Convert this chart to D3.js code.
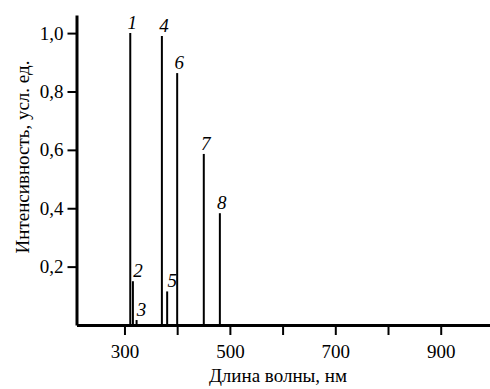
<!DOCTYPE html>
<html>
<head>
<meta charset="utf-8">
<script src="https://cdn.jsdelivr.net/npm/d3@7"></script>
<style>
  body { margin: 0; background: #fff; }
</style>
</head>
<body>
<svg id="chart" width="490" height="389" font-family="Liberation Serif">
  <text x="278" y="382" text-anchor="middle" font-size="19" font-family="Liberation Serif">Длина волны, нм</text>
  <text transform="translate(29,157) rotate(-90)" text-anchor="middle" font-size="19" font-family="Liberation Serif">Интенсивность, усл. ед.</text>
</svg>
<script>
// emission lines: wavelength (nm) and relative intensity
var lineNames = ["1", "2", "3", "4", "5", "6", "7", "8"];
var wavelengths = [311, 316, 323, 371, 381, 400, 450.5, 481];
var intensities = [1.0, 0.15, 0.017, 0.99, 0.115, 0.863, 0.586, 0.383];

var xTicks = [300, 400, 500, 600, 700, 800, 900];
var xTickLabels = ["300", "", "500", "", "700", "", "900"];
var yTicks = [0.2, 0.4, 0.6, 0.8, 1.0];
var yTickLabels = ["0,2", "0,4", "0,6", "0,8", "1,0"];

var svg = d3.select("#chart");

var x = d3.scaleLinear()
    .domain([209, 993.5])
    .range([76.5, 490]);

var y = d3.scaleLinear()
    .domain([0, 1.062])
    .range([325, 15]);

// spectral lines
svg.append("g")
   .selectAll("line")
   .data(wavelengths)
   .enter()
   .append("line")
   .attr("x1", function(d) { return x(d); })
   .attr("x2", function(d) { return x(d); })
   .attr("y1", y(0))
   .attr("y2", function(d, i) { return y(intensities[i]); })
   .attr("stroke", "#000")
   .attr("stroke-width", 2);

// line numbers (small lines get their number shifted to the right)
svg.append("g")
   .selectAll("text")
   .data(wavelengths)
   .enter()
   .append("text")
   .attr("x", function(d, i) { return x(d) + (intensities[i] < 0.2 ? 5 : 2); })
   .attr("y", function(d, i) { return y(intensities[i]) - 4; })
   .attr("text-anchor", "middle")
   .attr("font-family", "Liberation Serif")
   .attr("font-style", "italic")
   .attr("font-size", 19)
   .text(function(d, i) { return lineNames[i]; });

var xAxis = d3.axisBottom(x)
    .tickValues(xTicks)
    .tickFormat(function(d, i) { return xTickLabels[i]; })
    .tickSizeInner(10)
    .tickSizeOuter(0)
    .tickPadding(9.5);

var yAxis = d3.axisLeft(y)
    .tickValues(yTicks)
    .tickFormat(function(d, i) { return yTickLabels[i]; })
    .tickSizeInner(9)
    .tickSizeOuter(0)
    .tickPadding(4);

var gx = svg.append("g")
    .attr("transform", "translate(0," + y(0) + ")")
    .call(xAxis);

var gy = svg.append("g")
    .attr("transform", "translate(" + x(209) + ",0)")
    .call(yAxis);

[gx, gy].forEach(function(g) {
  g.attr("font-family", "Liberation Serif").attr("font-size", 19);
  g.select(".domain").attr("stroke-width", 3);
  g.selectAll(".tick line").attr("stroke-width", 2);
  g.selectAll(".tick text").attr("font-family", "Liberation Serif");
});
</script>
</body>
</html>
